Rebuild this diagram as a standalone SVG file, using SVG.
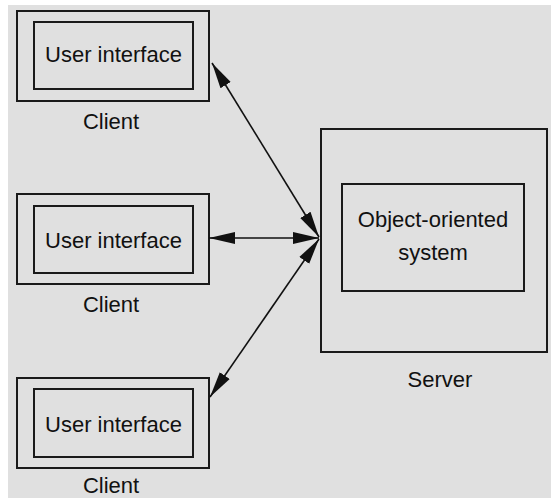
<svg xmlns="http://www.w3.org/2000/svg" width="551" height="498" viewBox="0 0 551 498">
<defs>
<marker id="ah" markerUnits="userSpaceOnUse" markerWidth="28" markerHeight="14" refX="26" refY="7" orient="auto-start-reverse" viewBox="0 0 28 14">
<path d="M0,1 L26,7 L0,13 Z" fill="#111"/>
</marker>
<style>
.box{fill:none;stroke:#1a1a1a;stroke-width:2}
.t{font-family:"Liberation Sans",Arial,sans-serif;font-size:22px;fill:#111;text-anchor:middle}
.c{stroke:#111;stroke-width:1.6;fill:none}
</style>
</defs>
<rect x="0" y="0" width="551" height="498" fill="#ffffff"/>
<rect x="8" y="5" width="543" height="493" fill="#e0e0e0"/>
<g id="client1">
<rect class="box" x="17" y="11" width="192" height="90"/>
<rect class="box" x="34" y="22" width="159" height="67"/>
<text class="t" x="113.5" y="62">User interface</text>
<text class="t" x="111" y="129">Client</text>
</g>
<g id="client2">
<rect class="box" x="17" y="194" width="192" height="90"/>
<rect class="box" x="34" y="206" width="159" height="67"/>
<text class="t" x="113.5" y="248">User interface</text>
<text class="t" x="111" y="312">Client</text>
</g>
<g id="client3">
<rect class="box" x="17" y="378" width="192" height="90"/>
<rect class="box" x="34" y="389" width="159" height="68"/>
<text class="t" x="113.5" y="432">User interface</text>
<text class="t" x="111" y="493">Client</text>
</g>
<g id="server">
<rect class="box" x="321" y="129" width="226" height="223"/>
<rect class="box" x="342" y="184" width="182" height="107"/>
<text class="t" x="433" y="227">Object-oriented</text>
<text class="t" x="433" y="260">system</text>
<text class="t" x="440" y="387">Server</text>
</g>
<g id="connectors">
<line class="c" x1="212" y1="63" x2="319" y2="237" marker-start="url(#ah)" marker-end="url(#ah)"/>
<line class="c" x1="209" y1="238" x2="319" y2="238" marker-start="url(#ah)" marker-end="url(#ah)"/>
<line class="c" x1="210" y1="397" x2="319" y2="239" marker-start="url(#ah)" marker-end="url(#ah)"/>
</g>
</svg>
